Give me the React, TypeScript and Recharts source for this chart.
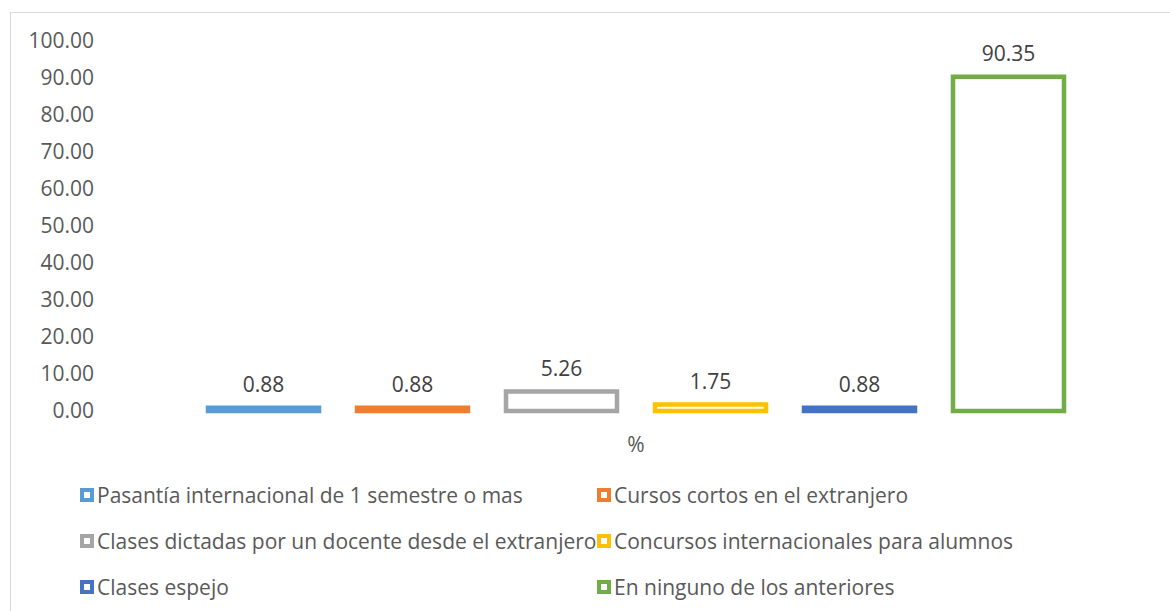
import React from "react"
import { BarChart, Bar, XAxis, YAxis, Legend, LabelList } from "recharts"

// series shown in the chart (one category: "%")
const categories = ["%"]
const seriesNames = [
  "Pasantía internacional de 1 semestre o mas",
  "Cursos cortos en el extranjero",
  "Clases dictadas por un docente desde el extranjero",
  "Concursos internacionales para alumnos",
  "Clases espejo",
  "En ninguno de los anteriores",
]
const seriesValues = [0.88, 0.88, 5.26, 1.75, 0.88, 90.35]
const seriesColors = ["#5b9bd5", "#ed7d31", "#a5a5a5", "#ffc000", "#4472c4", "#70ad47"]
const yTicks = [0, 10, 20, 30, 40, 50, 60, 70, 80, 90, 100]

const FONT = "'Open Sans', sans-serif"
const FS = 21

const data = categories.map((name) => {
  const row: Record<string, string | number> = { name }
  seriesNames.forEach((s, i) => {
    row[`s${i}`] = seriesValues[i]
  })
  return row
})

function LegendBox() {
  return (
    <div
      style={{
        display: "grid",
        gridTemplateColumns: "517px 517px",
        paddingLeft: 80,
        paddingTop: 1,
        height: 140,
        boxSizing: "border-box",
        fontFamily: FONT,
        fontSize: FS,
        color: "#595959",
      }}
    >
      {seriesNames.map((name, i) => (
        <div key={name} style={{ display: "flex", alignItems: "center", height: 45.5, whiteSpace: "nowrap" }}>
          <span
            style={{
              display: "inline-block",
              width: 14,
              height: 14,
              border: `4px solid ${seriesColors[i]}`,
              boxSizing: "border-box",
              background: "#fff",
              marginRight: 3,
            }}
          />
          {name}
        </div>
      ))}
    </div>
  )
}

export default function App() {
  return (
    <div style={{ position: "fixed", left: 0, top: 0, width: 1170, height: 611, overflow: "hidden", background: "#fff" }}>
      <div
        style={{
          position: "absolute",
          left: 10,
          top: 12,
          width: 1300,
          height: 800,
          border: "1px solid #d9d9d9",
        }}
      />
      <div style={{ position: "absolute", left: 0, top: 0 }}>
        <BarChart
          width={1200}
          height={611}
          data={data}
          margin={{ top: 41, right: 28, bottom: 0, left: 10 }}
          barGap={38}
          barSize={111}
        >
          <XAxis
            dataKey="name"
            axisLine={false}
            tickLine={false}
            tickSize={0}
            tickMargin={26}
            height={60}
            tick={{ fill: "#595959", fontSize: FS, fontFamily: FONT }}
          />
          <YAxis
            domain={[0, 100]}
            ticks={yTicks}
            width={90}
            axisLine={false}
            tickLine={false}
            tickSize={0}
            tickMargin={6}
            tickFormatter={(v: number) => v.toFixed(2)}
            tick={{ fill: "#595959", fontSize: FS, fontFamily: FONT }}
          />
          <Legend
            verticalAlign="bottom"
            content={() => <LegendBox />}
            wrapperStyle={{ left: 0, bottom: 0, width: 1170, height: 140 }}
          />
          {seriesNames.map((name, i) => (
            <Bar
              key={name}
              dataKey={`s${i}`}
              name={name}
              fill="#ffffff"
              stroke={seriesColors[i]}
              strokeWidth={4.5}
              isAnimationActive={false}
            >
              <LabelList
                dataKey={`s${i}`}
                position="top"
                offset={16}
                formatter={(v: number) => v.toFixed(2)}
                style={{ fill: "#404040", fontSize: FS, fontFamily: FONT }}
              />
            </Bar>
          ))}
        </BarChart>
      </div>
    </div>
  )
}
